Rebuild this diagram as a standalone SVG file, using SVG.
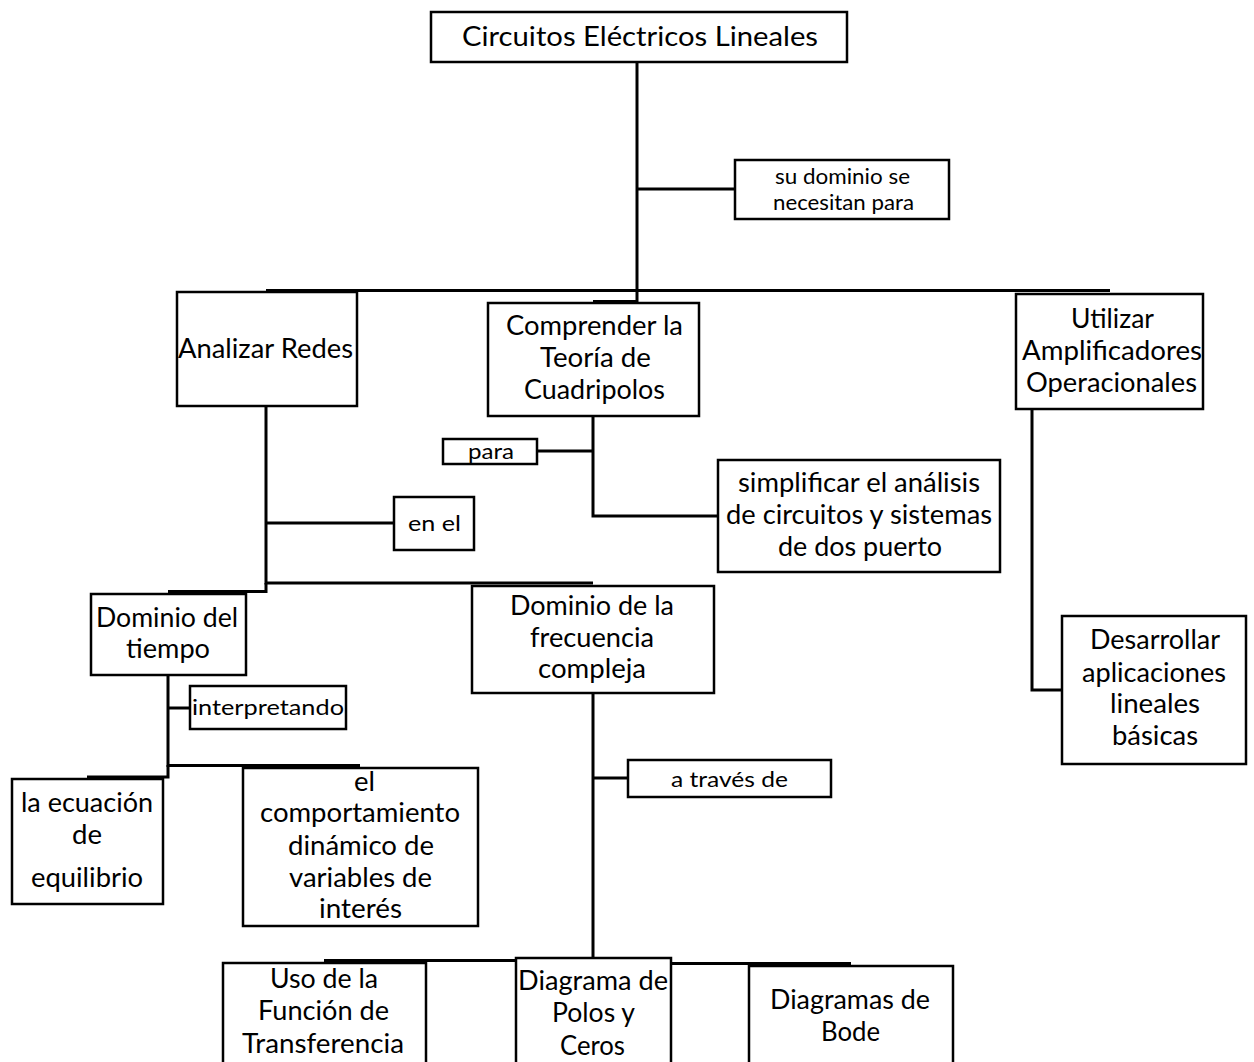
<svg xmlns="http://www.w3.org/2000/svg" width="1254" height="1062" viewBox="0 0 1254 1062">
<style>
  .box { fill: #ffffff; stroke: #000000; stroke-width: 2.5; }
  .con { fill: none; stroke: #000000; stroke-width: 3; }
  text { font-family: Lato, "Open Sans", "Liberation Sans", sans-serif; fill: #000000; text-anchor: middle; }
  .t { font-size: 26px; }
  .s { font-size: 22px; }
  .h { font-size: 27px; }
</style>
<rect width="1254" height="1062" fill="#ffffff"/>

<g id="connectors">
  <path class="con" d="M637,62 V290"/>
  <path class="con" d="M637,189 H735"/>
  <path class="con" d="M266,290.5 H1110"/>
  <path class="con" d="M637,290 V301.5 H593"/>
  <path class="con" d="M266,406 V583 H593"/>
  <path class="con" d="M266,583 V591.5 H168"/>
  <path class="con" d="M266,523 H394"/>
  <path class="con" d="M593,416 V516 H718"/>
  <path class="con" d="M537,451 H593"/>
  <path class="con" d="M1032,409 V690 H1062"/>
  <path class="con" d="M168,675 V765.5 H360"/>
  <path class="con" d="M168,765 V777 H87"/>
  <path class="con" d="M168,708 H190"/>
  <path class="con" d="M593,693 V960"/>
  <path class="con" d="M593,778 H628"/>
  <path class="con" d="M593,960.5 H324"/>
  <path class="con" d="M593,963.5 H851"/>
</g>

<g id="n-title">
  <rect class="box" x="431" y="12" width="416" height="50"/>
  <text class="h" x="640" y="46" textLength="356" lengthAdjust="spacingAndGlyphs">Circuitos Eléctricos Lineales</text>
</g>
<g id="n-sudominio">
  <rect class="box" x="735" y="160" width="214" height="59"/>
  <text class="s" x="842.5" y="184" textLength="135" lengthAdjust="spacingAndGlyphs">su dominio se</text>
  <text class="s" x="843.5" y="210" textLength="141" lengthAdjust="spacingAndGlyphs">necesitan para</text>
</g>
<g id="n-analizar">
  <rect class="box" x="177" y="292" width="180" height="114"/>
  <text class="t" x="265.5" y="358" textLength="175" lengthAdjust="spacingAndGlyphs">Analizar Redes</text>
</g>
<g id="n-comprender">
  <rect class="box" x="488" y="303" width="211" height="113"/>
  <text class="t" x="594.5" y="335" textLength="177" lengthAdjust="spacingAndGlyphs">Comprender la</text>
  <text class="t" x="595.5" y="367" textLength="111" lengthAdjust="spacingAndGlyphs">Teoría de</text>
  <text class="t" x="594.5" y="399" textLength="141" lengthAdjust="spacingAndGlyphs">Cuadripolos</text>
</g>
<g id="n-utilizar">
  <rect class="box" x="1016" y="294" width="187" height="115"/>
  <text class="t" x="1112.5" y="328" textLength="83" lengthAdjust="spacingAndGlyphs">Utilizar</text>
  <text class="t" x="1112" y="360" textLength="180" lengthAdjust="spacingAndGlyphs">Amplificadores</text>
  <text class="t" x="1111.5" y="392" textLength="171" lengthAdjust="spacingAndGlyphs">Operacionales</text>
</g>
<g id="n-para">
  <rect class="box" x="443" y="439" width="94" height="25"/>
  <text class="s" x="491" y="459" textLength="46" lengthAdjust="spacingAndGlyphs">para</text>
</g>
<g id="n-simplificar">
  <rect class="box" x="718" y="460" width="282" height="112"/>
  <text class="t" x="859" y="492" textLength="242" lengthAdjust="spacingAndGlyphs">simplificar el análisis</text>
  <text class="t" x="859" y="524" textLength="266" lengthAdjust="spacingAndGlyphs">de circuitos y sistemas</text>
  <text class="t" x="860" y="556" textLength="164" lengthAdjust="spacingAndGlyphs">de dos puerto</text>
</g>
<g id="n-enel">
  <rect class="box" x="394" y="497" width="80" height="53"/>
  <text class="s" x="434.5" y="531" textLength="53" lengthAdjust="spacingAndGlyphs">en el</text>
</g>
<g id="n-tiempo">
  <rect class="box" x="91" y="594" width="155" height="81"/>
  <text class="t" x="167" y="627" textLength="142" lengthAdjust="spacingAndGlyphs">Dominio del</text>
  <text class="t" x="168" y="658" textLength="84" lengthAdjust="spacingAndGlyphs">tiempo</text>
</g>
<g id="n-frecuencia">
  <rect class="box" x="472" y="586" width="242" height="107"/>
  <text class="t" x="592" y="615" textLength="164" lengthAdjust="spacingAndGlyphs">Dominio de la</text>
  <text class="t" x="592" y="647" textLength="124" lengthAdjust="spacingAndGlyphs">frecuencia</text>
  <text class="t" x="592" y="678" textLength="108" lengthAdjust="spacingAndGlyphs">compleja</text>
</g>
<g id="n-interpretando">
  <rect class="box" x="190" y="686" width="156" height="43"/>
  <text class="s" x="268" y="715" textLength="152" lengthAdjust="spacingAndGlyphs">interpretando</text>
</g>
<g id="n-desarrollar">
  <rect class="box" x="1062" y="616" width="184" height="148"/>
  <text class="t" x="1155" y="649" textLength="130" lengthAdjust="spacingAndGlyphs">Desarrollar</text>
  <text class="t" x="1154" y="682" textLength="144" lengthAdjust="spacingAndGlyphs">aplicaciones</text>
  <text class="t" x="1155" y="713" textLength="90" lengthAdjust="spacingAndGlyphs">lineales</text>
  <text class="t" x="1155" y="745" textLength="86" lengthAdjust="spacingAndGlyphs">básicas</text>
</g>
<g id="n-ecuacion">
  <rect class="box" x="12" y="779" width="151" height="125"/>
  <text class="t" x="87" y="812" textLength="132" lengthAdjust="spacingAndGlyphs">la ecuación</text>
  <text class="t" x="87" y="844" textLength="30" lengthAdjust="spacingAndGlyphs">de</text>
  <text class="t" x="87" y="887" textLength="112" lengthAdjust="spacingAndGlyphs">equilibrio</text>
</g>
<g id="n-comportamiento">
  <rect class="box" x="243" y="768" width="235" height="158"/>
  <text class="t" x="364.5" y="791" textLength="21" lengthAdjust="spacingAndGlyphs">el</text>
  <text class="t" x="360" y="822" textLength="200" lengthAdjust="spacingAndGlyphs">comportamiento</text>
  <text class="t" x="361" y="855" textLength="146" lengthAdjust="spacingAndGlyphs">dinámico de</text>
  <text class="t" x="360.5" y="887" textLength="143" lengthAdjust="spacingAndGlyphs">variables de</text>
  <text class="t" x="360.5" y="918" textLength="83" lengthAdjust="spacingAndGlyphs">interés</text>
</g>
<g id="n-atraves">
  <rect class="box" x="628" y="760" width="203" height="37"/>
  <text class="s" x="729.5" y="787" textLength="117" lengthAdjust="spacingAndGlyphs">a través de</text>
</g>
<g id="n-uso">
  <rect class="box" x="223" y="963" width="203" height="110"/>
  <text class="t" x="324" y="988" textLength="108" lengthAdjust="spacingAndGlyphs">Uso de la</text>
  <text class="t" x="323.5" y="1020" textLength="131" lengthAdjust="spacingAndGlyphs">Función de</text>
  <text class="t" x="323" y="1053" textLength="162" lengthAdjust="spacingAndGlyphs">Transferencia</text>
</g>
<g id="n-polos">
  <rect class="box" x="516" y="958" width="155" height="115"/>
  <text class="t" x="593" y="990" textLength="150" lengthAdjust="spacingAndGlyphs">Diagrama de</text>
  <text class="t" x="593.5" y="1022" textLength="83" lengthAdjust="spacingAndGlyphs">Polos y</text>
  <text class="t" x="592.5" y="1055" textLength="65" lengthAdjust="spacingAndGlyphs">Ceros</text>
</g>
<g id="n-bode">
  <rect class="box" x="749" y="966" width="204" height="107"/>
  <text class="t" x="850" y="1009" textLength="160" lengthAdjust="spacingAndGlyphs">Diagramas de</text>
  <text class="t" x="850.5" y="1041" textLength="59" lengthAdjust="spacingAndGlyphs">Bode</text>
</g>
</svg>
